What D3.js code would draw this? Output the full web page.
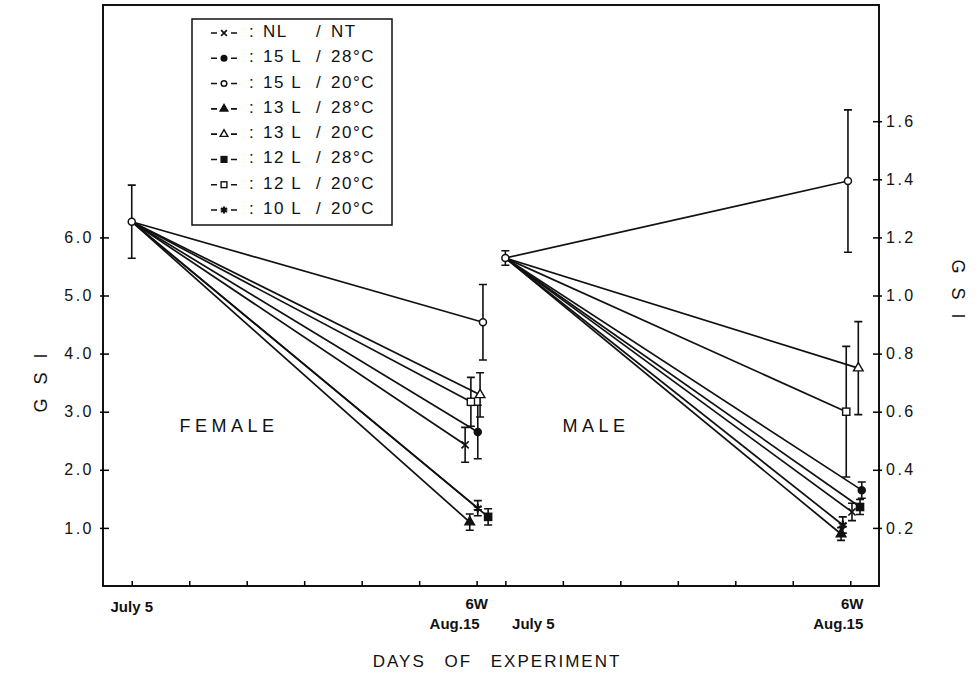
<!DOCTYPE html>
<html>
<head>
<meta charset="utf-8">
<script src="https://cdn.jsdelivr.net/npm/d3@7"></script>
<style>
  html, body { margin: 0; padding: 0; background: #fff; }
  svg text { font-family: "Liberation Sans", Arial, sans-serif; fill: #111; }
</style>
</head>
<body>
<div id="chart"></div>
<script>
// ── Data ──
const seriesKeys   = ["NL/NT", "15L/28", "15L/20", "13L/28", "13L/20", "12L/28", "12L/20", "10L/20"];
const photoLabels  = ["NL", "15 L", "15 L", "13 L", "13 L", "12 L", "12 L", "10 L"];
const tempLabels   = ["NT", "28°C", "20°C", "28°C", "20°C", "28°C", "20°C", "20°C"];
const markerTypes  = ["x", "dot", "circle", "tri", "triOpen", "square", "squareOpen", "star"];

// weeks: female July 5 = 0, Aug.15 = 6 ; male July 5 = 6.5, Aug.15 = 12.5
const femaleStart   = { week: 0, gsi: 6.27, se: 0.63 };
const femaleEndWeek = [5.80, 6.02, 6.11, 5.88, 6.06, 6.20, 5.90, 6.02];
const femaleEndGsi  = [2.43, 2.65, 4.54, 1.10, 3.29, 1.19, 3.17, 1.34];
const femaleEndSe   = [0.30, 0.46, 0.65, 0.14, 0.38, 0.14, 0.42, 0.13];

const maleStart   = { week: 6.5, gsi: 1.129, se: 0.025 };
const maleEndWeek = [12.53, 12.70, 12.46, 12.34, 12.64, 12.67, 12.43, 12.37];
const maleEndGsi  = [0.255, 0.33, 1.394, 0.179, 0.75, 0.272, 0.60, 0.21];
const maleEndSe   = [0.030, 0.028, 0.245, 0.022, 0.16, 0.026, 0.225, 0.028];

const leftTicks  = [1, 2, 3, 4, 5, 6];
const rightTicks = [0.2, 0.4, 0.6, 0.8, 1.0, 1.2, 1.4, 1.6];
const weekTicks  = [0, 1, 2, 3, 4, 5, 6, 6.5, 7.5, 8.5, 9.5, 10.5, 11.5, 12.5];

// ── Layout ──
const W = 979, H = 681;
const svg = d3.select("#chart").append("svg")
  .attr("width", W).attr("height", H);

const x  = d3.scaleLinear().domain([-0.5, 13]).range([103, 879]);
const yL = d3.scaleLinear().domain([0, 10]).range([586, 5]);
const yR = d3.scaleLinear().domain([0, 2]).range([586, 5]);

// ── Frame ──
svg.append("rect")
  .attr("x", x(-0.5)).attr("y", yL(10))
  .attr("width", x(13) - x(-0.5)).attr("height", yL(0) - yL(10))
  .attr("fill", "none").attr("stroke", "#111").attr("stroke-width", 2);

// ── Axes ──
const gl = svg.append("g").attr("transform", `translate(${x(-0.5)},0)`)
  .call(d3.axisLeft(yL).tickValues(leftTicks).tickFormat(d3.format(".1f")).tickSize(-6).tickPadding(9));
gl.select(".domain").remove();
gl.selectAll(".tick line").attr("x1", -3).attr("stroke-width", 1.5);

const gr = svg.append("g").attr("transform", `translate(${x(13)},0)`)
  .call(d3.axisRight(yR).tickValues(rightTicks).tickFormat(d3.format(".1f")).tickSize(-6).tickPadding(7));
gr.select(".domain").remove();
gr.selectAll(".tick line").attr("x1", 3).attr("stroke-width", 1.5);

[gl, gr].forEach(g => g.selectAll(".tick text")
  .attr("font-size", 16).attr("letter-spacing", 2.5)
  .attr("font-family", "Liberation Sans, Arial, sans-serif").attr("fill", "#111"));

const gb = svg.append("g").attr("transform", `translate(0,${yL(0)})`)
  .call(d3.axisBottom(x).tickValues(weekTicks).tickSize(-5).tickFormat(""));
gb.select(".domain").remove();
gb.selectAll(".tick line").attr("stroke-width", 1.5);

// ── Axis labels ──
const xLabels = [
  { week: 0,    dx: 0,   dy: 22, text: "July 5" },
  { week: 6,    dx: 0,   dy: 19, text: "6W" },
  { week: 6,    dx: -22, dy: 39, text: "Aug.15" },
  { week: 6.5,  dx: 28,  dy: 39, text: "July 5" },
  { week: 12.5, dx: 2,   dy: 19, text: "6W" },
  { week: 12.5, dx: -12, dy: 39, text: "Aug.15" }
];
svg.append("g").selectAll("text").data(xLabels).join("text")
  .attr("x", d => x(d.week) + d.dx).attr("y", d => yL(0) + d.dy)
  .attr("text-anchor", "middle").attr("dominant-baseline", "middle")
  .attr("font-size", 15).attr("font-weight", "bold")
  .text(d => d.text);

svg.append("text")
  .attr("x", 497).attr("y", 663)
  .attr("text-anchor", "middle").attr("dominant-baseline", "middle")
  .attr("font-size", 17).attr("letter-spacing", 2).attr("word-spacing", 12)
  .text("DAYS OF EXPERIMENT");

svg.append("text")
  .attr("transform", "translate(42,376) rotate(-90)")
  .attr("text-anchor", "middle").attr("dominant-baseline", "middle")
  .attr("font-size", 18).attr("letter-spacing", 14)
  .text("GSI");

svg.append("text")
  .attr("transform", "translate(957,296) rotate(90)")
  .attr("text-anchor", "middle").attr("dominant-baseline", "middle")
  .attr("font-size", 18).attr("letter-spacing", 14)
  .text("GSI");

svg.append("text").attr("x", 229).attr("y", 427)
  .attr("text-anchor", "middle").attr("dominant-baseline", "middle")
  .attr("font-size", 18).attr("letter-spacing", 4.5).text("FEMALE");
svg.append("text").attr("x", 596).attr("y", 427)
  .attr("text-anchor", "middle").attr("dominant-baseline", "middle")
  .attr("font-size", 18).attr("letter-spacing", 4.5).text("MALE");

// ── Marker drawing ──
function drawMarker(g, type, cx, cy, k) {
  k = k || 1;
  const s = 3.6 * k;
  if (type === "x") {
    g.append("path").attr("d", `M${cx - s},${cy - s}L${cx + s},${cy + s}M${cx - s},${cy + s}L${cx + s},${cy - s}`)
      .attr("stroke", "#111").attr("stroke-width", 1.6);
  } else if (type === "dot" || type === "circle") {
    g.append("circle").attr("cx", cx).attr("cy", cy).attr("r", 3.5 * k)
      .attr("fill", type === "dot" ? "#111" : "#fff").attr("stroke", "#111").attr("stroke-width", 1.5);
  } else if (type === "tri" || type === "triOpen") {
    g.append("path").attr("d", d3.symbol().type(d3.symbolTriangle).size(40 * k * k)())
      .attr("transform", `translate(${cx},${cy})`)
      .attr("fill", type === "tri" ? "#111" : "#fff").attr("stroke", "#111").attr("stroke-width", 1.4);
  } else if (type === "square" || type === "squareOpen") {
    g.append("rect").attr("x", cx - s).attr("y", cy - s).attr("width", 2 * s).attr("height", 2 * s)
      .attr("fill", type === "square" ? "#111" : "#fff").attr("stroke", "#111").attr("stroke-width", 1.4);
  } else if (type === "star") {
    g.append("path").attr("d", d3.symbol().type(d3.symbolAsterisk).size(55 * k * k)())
      .attr("transform", `translate(${cx},${cy})`)
      .attr("fill", "none").attr("stroke", "#111").attr("stroke-width", 2.2);
  }
}

function errorBar(g, cx, yTop, yBot) {
  const c = 4;
  g.append("path")
    .attr("d", `M${cx},${yTop}L${cx},${yBot}M${cx - c},${yTop}L${cx + c},${yTop}M${cx - c},${yBot}L${cx + c},${yBot}`)
    .attr("stroke", "#111").attr("stroke-width", 1.6).attr("fill", "none");
}

// ── Panels ──
function drawPanel(start, endWeek, endGsi, endSe, y) {
  const g = svg.append("g");
  const x0 = x(start.week), y0 = y(start.gsi);
  seriesKeys.forEach((k, i) => {
    g.append("line")
      .attr("x1", x0).attr("y1", y0)
      .attr("x2", x(endWeek[i])).attr("y2", y(endGsi[i]))
      .attr("stroke", "#111").attr("stroke-width", 1.7);
  });
  errorBar(g, x0, y(start.gsi + start.se), y(start.gsi - start.se));
  seriesKeys.forEach((k, i) => {
    errorBar(g, x(endWeek[i]), y(endGsi[i] + endSe[i]), y(endGsi[i] - endSe[i]));
  });
  drawMarker(g, "circle", x0, y0);
  seriesKeys.forEach((k, i) => drawMarker(g, markerTypes[i], x(endWeek[i]), y(endGsi[i])));
}
drawPanel(femaleStart, femaleEndWeek, femaleEndGsi, femaleEndSe, yL);
drawPanel(maleStart, maleEndWeek, maleEndGsi, maleEndSe, yR);

// ── Legend ──
const legend = svg.append("g");
legend.append("rect").attr("x", 192).attr("y", 19).attr("width", 200).attr("height", 206)
  .attr("fill", "#fff").attr("stroke", "#111").attr("stroke-width", 1.5);
const rowY = d3.scalePoint().domain(seriesKeys).range([33, 210]);
seriesKeys.forEach((k, i) => {
  const yy = rowY(k);
  legend.append("path").attr("d", `M211,${yy}L217,${yy}M231,${yy}L237,${yy}`)
    .attr("stroke", "#111").attr("stroke-width", 1.6);
  drawMarker(legend, markerTypes[i], 224, yy, 0.8);
  const t = legend.append("text").attr("y", yy).attr("dominant-baseline", "middle")
    .attr("font-size", 17).attr("letter-spacing", 1.5);
  t.append("tspan").attr("x", 249).text(":");
  t.append("tspan").attr("x", 263).text(photoLabels[i]);
  t.append("tspan").attr("x", 316).text("/");
  t.append("tspan").attr("x", 331).text(tempLabels[i]);
});
</script>
</body>
</html>
